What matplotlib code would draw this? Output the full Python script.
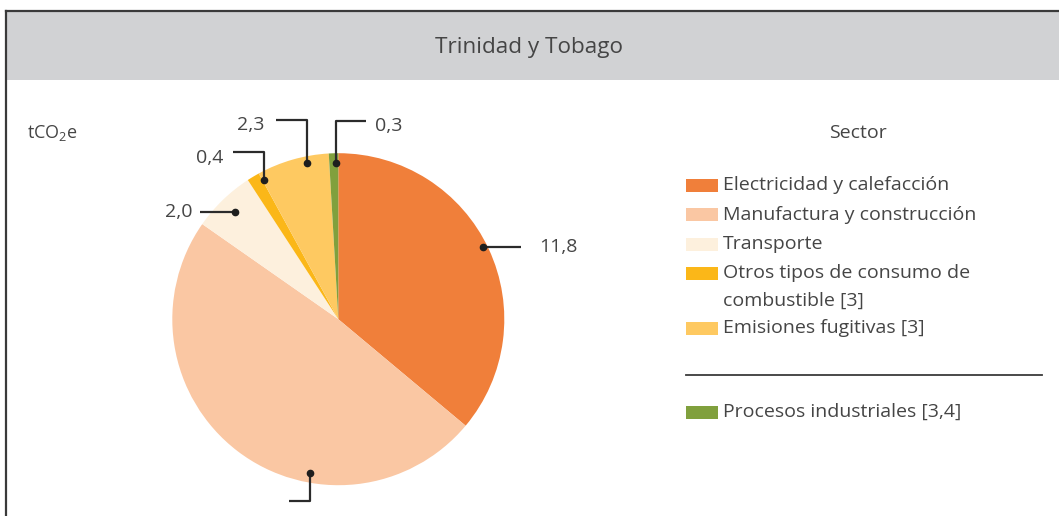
import matplotlib
matplotlib.use("Agg")
import matplotlib.pyplot as plt
import numpy as np
from matplotlib.patches import Rectangle

plt.rcParams['font.family'] = ['Open Sans', 'DejaVu Sans']
plt.rcParams['mathtext.default'] = 'regular'

# ---- data ----
title = "Trinidad y Tobago"
unit = "tCO$_{2}$e"
legend_title = "Sector"
sectors = ["Electricidad y calefacción", "Manufactura y construcción", "Transporte",
           "Otros tipos de consumo de\ncombustible [3]", "Emisiones fugitivas [3]",
           "Procesos industriales [3,4]"]
values = [11.8, 15.9, 2.0, 0.4, 2.3, 0.3]
value_labels = ["11,8", "15,9", "2,0", "0,4", "2,3", "0,3"]
colors = ["#f07f3a", "#fac7a3", "#fdf0dd", "#fbb718", "#fec961", "#80a03d"]

# ---- layout ----
W, H = 1059, 516
TXT = "#454545"
LINE = "#2b2b2b"
fig = plt.figure(figsize=(W / 100, H / 100), dpi=100)
bg = fig.add_axes([0, 0, 1, 1])
bg.set_xlim(0, W)
bg.set_ylim(H, 0)
bg.axis('off')

# header band and frame
bg.add_patch(Rectangle((6, 11), W - 6, 69, facecolor="#d1d2d4", edgecolor='none'))
bg.plot([5.5, W], [10.5, 10.5], color="#3a3a3a", lw=1.6)
bg.plot([5.5, 5.5], [10.5, H], color="#3a3a3a", lw=1.6)
bg.text(529, 47, title, ha='center', va='center', fontsize=16.2, color=TXT)
bg.text(27, 133, unit, ha='left', va='center', fontsize=13, color=TXT)

# legend
bg.text(858, 133, legend_title, ha='center', va='center', fontsize=14, color=TXT)
leg_y = [185, 214.5, 244, 273.5, 328, 412]
for i, (lab, col) in enumerate(zip(sectors, colors)):
    y = leg_y[i]
    bg.add_patch(Rectangle((686, y - 6.5), 32, 13, facecolor=col, edgecolor='none'))
    if "\n" in lab:
        l1, l2 = lab.split("\n")
        bg.text(723, y, l1, ha='left', va='center', fontsize=14, color=TXT)
        bg.text(723, y + 27, l2, ha='left', va='center', fontsize=14, color=TXT)
    else:
        bg.text(723, y, lab, ha='left', va='center', fontsize=14, color=TXT)
bg.plot([686, 1042], [375, 375], color="#3a3a3a", lw=1.3)

# pie
cx, cy, R = 338.3, 319.2, 166.0
ax = fig.add_axes([(cx - R) / W, 1 - (cy + R) / H, 2 * R / W, 2 * R / H])
ax.pie(values, colors=colors, startangle=90, counterclock=False, radius=1,
       wedgeprops=dict(linewidth=0))
ax.set_xlim(-1, 1)
ax.set_ylim(-1, 1)
ax.axis('off')

# leader lines: (angle clockwise from top, radius fraction, path offsets in px, text offset, ha)
p = 1.0 / R
leaders = [
    (63.4, 0.976, [(38, 0)], (56, 0), 'left'),
    (190.4, 0.94, [(0, -28.4), (-21, -28.4)], None, 'right'),
    (316.1, 0.90, [(-35, 0)], (-42, 0), 'right'),
    (331.9, 0.95, [(0, 28), (-31, 28)], (-41, 22), 'right'),
    (348.5, 0.96, [(0, 42.6), (-30.7, 42.6)], (-41.7, 37.6), 'right'),
    (359.2, 0.94, [(0, 42.6), (30, 42.6)], (39, 37.6), 'left'),
]
for (ang, rf, path, toff, ha), lab in zip(leaders, value_labels):
    a = np.deg2rad(ang)
    x0, y0 = rf * np.sin(a), rf * np.cos(a)
    xs = [x0] + [x0 + dx * p for dx, dy in path]
    ys = [y0] + [y0 + dy * p for dx, dy in path]
    ax.plot(xs, ys, color=LINE, lw=1.6, clip_on=False, solid_capstyle='butt')
    ax.plot([x0], [y0], 'o', color="#1e1e1e", ms=4.5, clip_on=False)
    if toff is not None:
        ax.text(x0 + toff[0] * p, y0 + toff[1] * p, lab, ha=ha, va='center',
                fontsize=14, color=TXT, clip_on=False)

fig.savefig("out.png", dpi=100)
